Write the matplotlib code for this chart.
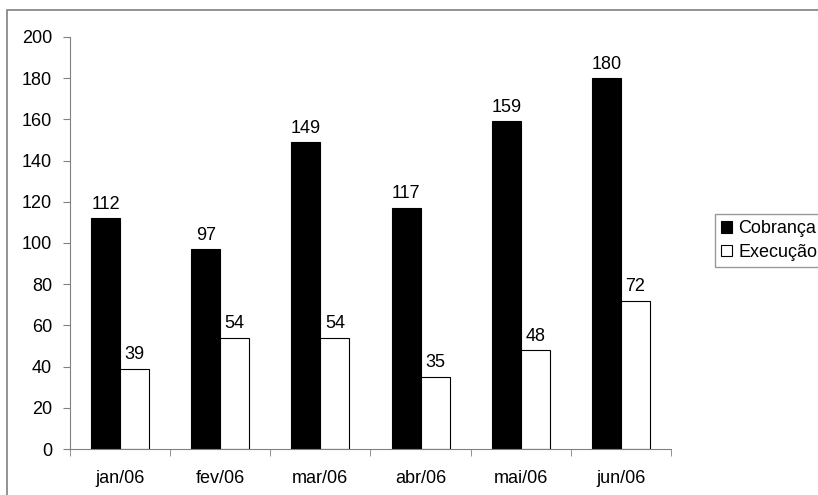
import matplotlib
matplotlib.use('Agg')
import matplotlib.pyplot as plt
import numpy as np
from matplotlib.patches import Rectangle

plt.rcParams.update({
    'font.family': ['Liberation Sans', 'DejaVu Sans'],
    'font.size': 13,
})

months = ['jan/06', 'fev/06', 'mar/06', 'abr/06', 'mai/06', 'jun/06']
cobranca = [112, 97, 149, 117, 159, 180]
execucao = [39, 54, 54, 35, 48, 72]

fig = plt.figure(figsize=(8.18, 4.95), dpi=100)
ax = fig.add_axes([70 / 818, 1 - 449 / 495, 601 / 818, 412 / 495])

# outer chart frame (cut off at right/bottom like the source)
fig.patches.append(Rectangle((7 / 818, -0.1), 1.2, 1 - 10 / 495 + 0.1,
                             transform=fig.transFigure, fill=False,
                             edgecolor='#808080', linewidth=1.2))

x = np.arange(len(months))
w = 0.29
b1 = ax.bar(x - w / 2, cobranca, w, color='black', edgecolor='black',
            linewidth=0.8, label='Cobrança')
b2 = ax.bar(x + w / 2, execucao, w, color='white', edgecolor='black',
            linewidth=0.8, label='Execução')

for bars in (b1, b2):
    for r in bars:
        ax.annotate(f'{int(r.get_height())}',
                    (r.get_x() + r.get_width() / 2, r.get_height()),
                    xytext=(0, 4), textcoords='offset points',
                    ha='center', va='bottom', fontsize=13)

ax.set_xlim(-0.5, len(months) - 0.5)
ax.set_ylim(0, 200)
ax.set_yticks(range(0, 201, 20))
ax.set_xticks(x)
ax.set_xticklabels(months)
ax.set_xticks(np.arange(-0.5, len(months)), minor=True)
ax.tick_params(axis='x', which='major', length=0, pad=15)
ax.tick_params(axis='x', which='minor', length=5, color='#808080', direction='out')
ax.tick_params(axis='y', length=5, color='#808080', pad=8)

for s in ['top', 'right']:
    ax.spines[s].set_visible(False)
for s in ['left', 'bottom']:
    ax.spines[s].set_color('#808080')

leg = fig.legend(loc='upper left', bbox_to_anchor=(715 / 818, 1 - 214 / 495),
                 frameon=True, fancybox=False, edgecolor='#808080',
                 handlelength=0.6, handleheight=0.6, handletextpad=0.35,
                 borderpad=0.35, borderaxespad=0, labelspacing=0.35,
                 fontsize=13)
leg.get_frame().set_linewidth(1.0)

fig.savefig('out.png', dpi=100)
plt.close()
